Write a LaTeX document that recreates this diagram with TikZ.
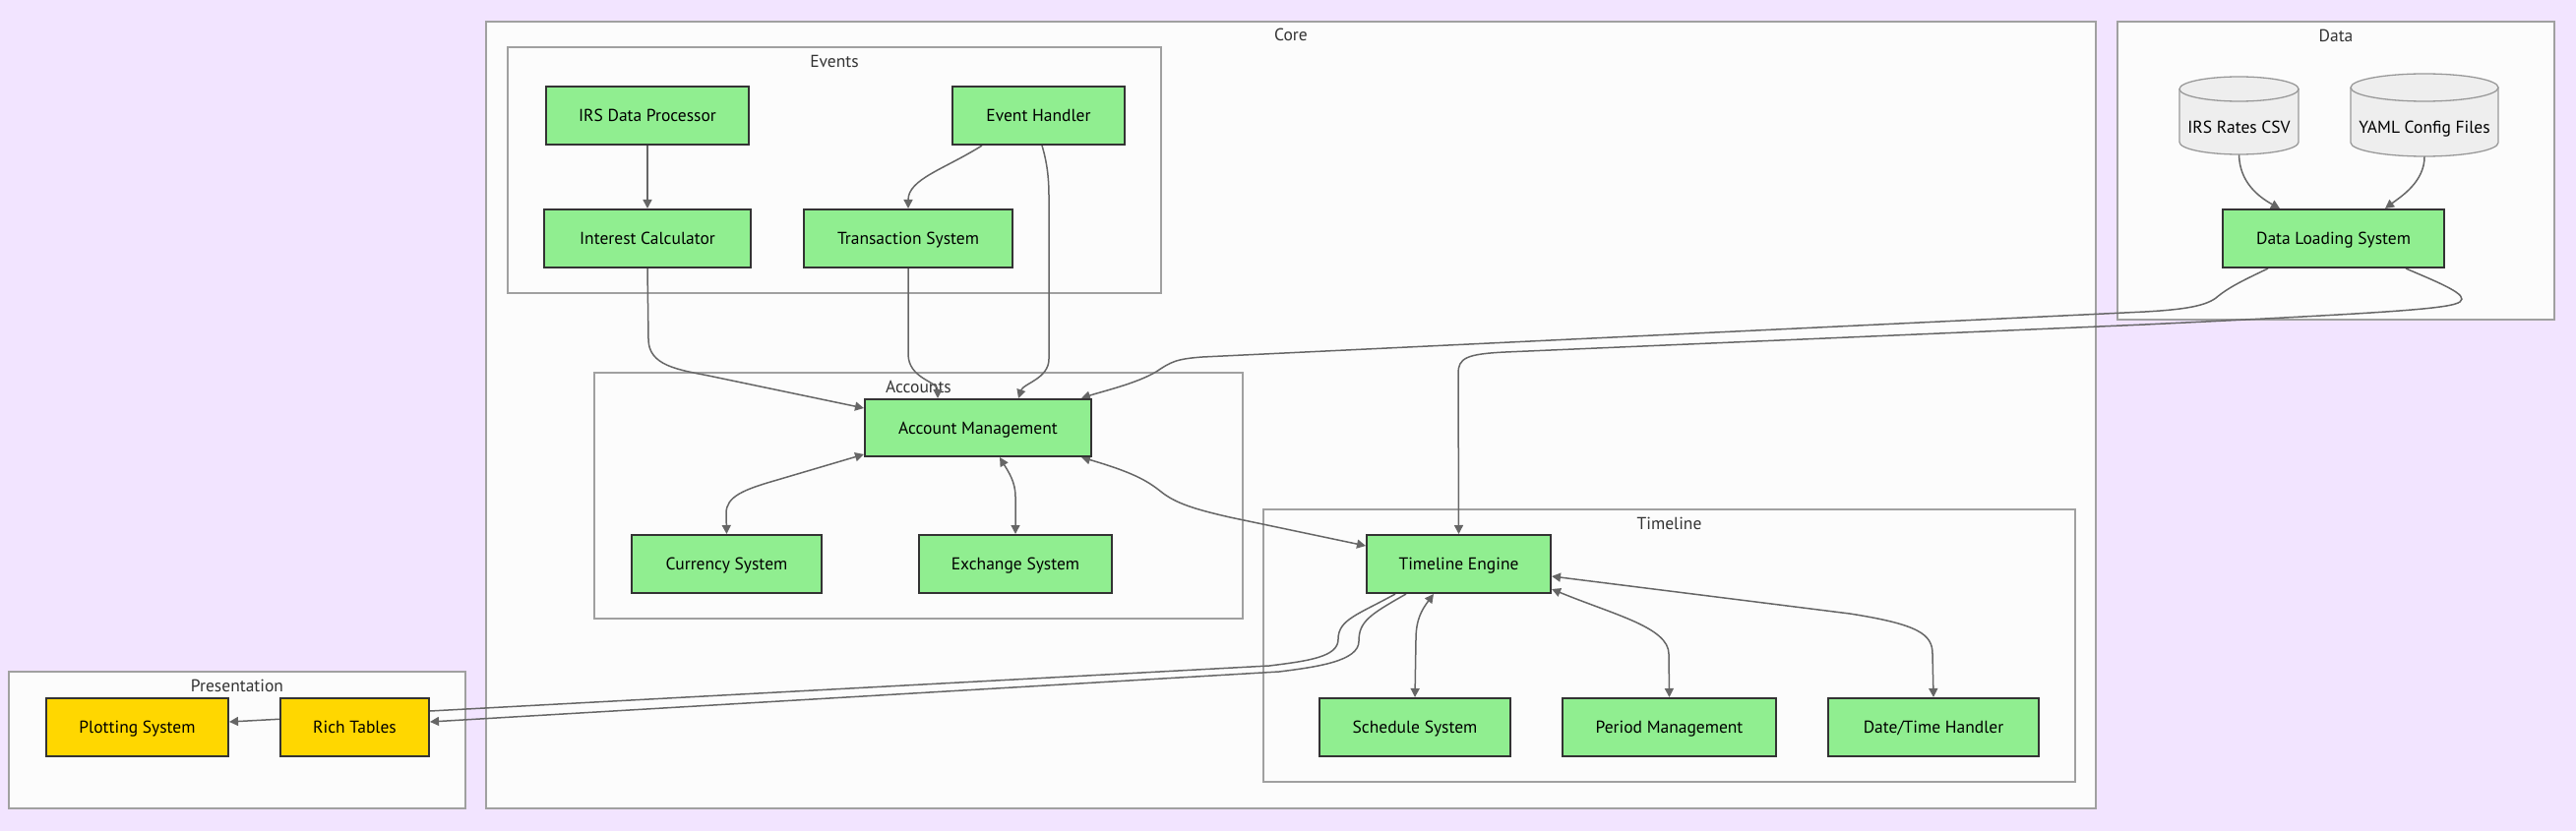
\documentclass[tikz,border=0pt]{standalone}
\usepackage{fontspec}
\setmainfont{PT Sans}
\usetikzlibrary{arrows.meta}
\definecolor{bgc}{RGB}{242,228,255}
\definecolor{clfill}{RGB}{252,252,252}
\definecolor{clborder}{RGB}{160,160,160}
\definecolor{greenfill}{RGB}{144,238,144}
\definecolor{goldfill}{RGB}{255,215,0}
\definecolor{nborder}{RGB}{51,51,51}
\definecolor{edgec}{RGB}{102,102,102}
\definecolor{cylfill}{RGB}{238,238,238}
\definecolor{cylborder}{RGB}{153,153,153}
\definecolor{titlec}{RGB}{51,51,51}
\newcommand\nodefont{\fontsize{17.5}{21}\selectfont}
\pgfdeclarelayer{clusters}
\pgfdeclarelayer{edges}
\pgfsetlayers{clusters,edges,main}
\tikzset{
 box/.style={draw=nborder, line width=2pt, fill=greenfill, minimum height=59pt, inner sep=0pt, font=\nodefont, text height=12.2pt, text depth=0pt},
 goldbox/.style={box, fill=goldfill},
 cluster/.style={draw=clborder, line width=1.3pt, fill=clfill, inner sep=0pt},
 ctitle/.style={text=titlec, font=\nodefont, inner sep=0pt, text height=12.2pt, text depth=0pt},
 cylshape/.style={inner sep=0pt},
 cyllabel/.style={font=\nodefont, inner sep=0pt, text height=12.2pt, text depth=0pt},
 conn/.style={draw=edgec, line width=1.5pt, -{Triangle[length=9pt,width=9pt]}},
 biconn/.style={draw=edgec, line width=1.5pt, {Triangle[length=9pt,width=9pt]}-{Triangle[length=9pt,width=9pt]}},
}
\begin{document}
\begin{tikzpicture}[x=1pt,y=-1pt]
\begin{pgfonlayer}{clusters}
\path[fill=bgc] (0,0) rectangle (2618,845);
\useasboundingbox (0,0) rectangle (2618,845);
% clusters
\node[cluster, minimum width=1636pt, minimum height=800pt] (core) at (1312,422) {};
\node[ctitle] (coret) at (1312,35) {Core};
\node[cluster, minimum width=664pt, minimum height=250pt] (events) at (848,173) {};
\node[ctitle] (eventst) at (848,62) {Events};
\node[cluster, minimum width=659pt, minimum height=250pt] (accounts) at (933.5,504) {};
\node[ctitle] (accountst) at (933.5,393) {Accounts};
\node[cluster, minimum width=825pt, minimum height=277pt] (timeline) at (1696.5,656.5) {};
\node[ctitle] (timelinet) at (1696.5,532) {Timeline};
\node[cluster, minimum width=444pt, minimum height=303pt] (data) at (2374,173.5) {};
\node[ctitle] (datat) at (2374,36) {Data};
\node[cluster, minimum width=464pt, minimum height=139pt] (pres) at (241,752.5) {};
\node[ctitle] (prest) at (241,697) {Presentation};
\end{pgfonlayer}

% nodes
\node[box, minimum width=206pt] (irs) at (658,117.5) {IRS Data Processor};
\node[box, minimum width=175pt] (evh) at (1055.5,117.5) {Event Handler};
\node[box, minimum width=210pt] (ic) at (658,242.5) {Interest Calculator};
\node[box, minimum width=212pt] (ts) at (923,242.5) {Transaction System};
\node[box, minimum width=230pt, minimum height=58pt] (am) at (994,435) {Account Management};
\node[box, minimum width=193pt] (cur) at (738.5,573.5) {Currency System};
\node[box, minimum width=196pt] (exch) at (1032,573.5) {Exchange System};
\node[box, minimum width=187pt] (te) at (1482.5,573.5) {Timeline Engine};
\node[box, minimum width=194pt] (sched) at (1438,739.5) {Schedule System};
\node[box, minimum width=217pt] (period) at (1696.5,739.5) {Period Management};
\node[box, minimum width=214pt] (dt) at (1965,739.5) {Date/Time Handler};
\node[box, minimum width=225pt] (dls) at (2371.5,242.5) {Data Loading System};
\node[goldbox, minimum width=185pt] (plot) at (139.5,739.5) {Plotting System};
\node[goldbox, minimum width=151pt] (rich) at (360.5,739.5) {Rich Tables};

% cylinders
\path[fill=cylfill] (2215,90.5) rectangle (2336,144.5);
\path[fill=cylfill] (2275.5,144.5) ellipse [x radius=60.5, y radius=12.5];
\draw[draw=cylborder, line width=1.3pt, fill=cylfill] (2275.5,90.5) ellipse [x radius=60.5, y radius=12.5];
\draw[draw=cylborder, line width=1.3pt] (2215,90.5) -- (2215,144.5) .. controls (2215,151.4) and (2242.1,157) .. (2275.5,157) .. controls (2308.9,157) and (2336,151.4) .. (2336,144.5) -- (2336,90.5);
\node[cylshape, minimum width=121pt, minimum height=79pt] (csv) at (2275.5,117.5) {};
\node[cyllabel] (csvt) at (2275.5,129) {IRS Rates CSV};

\path[fill=cylfill] (2389,89) rectangle (2539,145);
\path[fill=cylfill] (2464,145) ellipse [x radius=75, y radius=14];
\draw[draw=cylborder, line width=1.3pt, fill=cylfill] (2464,89) ellipse [x radius=75, y radius=14];
\draw[draw=cylborder, line width=1.3pt] (2389,89) -- (2389,145) .. controls (2389,152.7) and (2422.6,159) .. (2464,159) .. controls (2505.4,159) and (2539,152.7) .. (2539,145) -- (2539,89);
\node[cylshape, minimum width=150pt, minimum height=84pt] (yaml) at (2464,117) {};
\node[cyllabel] (yamlt) at (2464,129) {YAML Config Files};

\begin{pgfonlayer}{edges}
\draw[conn] (irs.south) -- (ic.north);
\draw[conn] ([xshift=-57.5pt]evh.south) .. controls (960,172) and (923,182) .. (ts.north);
\draw[conn] ([xshift=3.5pt]evh.south) .. controls (1064,165) and (1066,180) .. (1066,200) -- (1066,365) .. controls (1066,385) and (1040,390) .. ([xshift=41pt]am.north);
\draw[conn] (ic.south) -- (659,345) .. controls (659,372) and (690,376) .. (720,382) -- ([yshift=20pt]am.west);
\draw[conn] (ts.south) -- (923,360) .. controls (923,385) and (953,388) .. ([xshift=-41pt]am.north);
\draw[conn] ([xshift=-66.5pt]dls.south) .. controls (2280,285) and (2265,292) .. (2252,303) .. controls (2240,312) and (2215,315) .. (2180,317) -- (1222,363) .. controls (1195,365) and (1190,368) .. (1175,378) .. controls (1155,390) and (1120,398) .. ([xshift=105pt]am.north);
\draw[conn] ([xshift=73.5pt]dls.south) .. controls (2480,288) and (2510,300) .. (2500,307) .. controls (2490,314) and (2430,318) .. (2180,330) -- (1530,358) .. controls (1490,360) and (1482,364) .. (1482,380) -- (te.north);
\draw[biconn] ([yshift=-27pt]am.west) -- (790,488) .. controls (755,498) and (738,505) .. (738,522) -- (cur.north);
\draw[biconn] ([xshift=22pt]am.south) .. controls (1025,480) and (1032,490) .. (1032,505) -- (exch.north);
\draw[biconn] ([xshift=105pt]am.south) .. controls (1150,480) and (1165,488) .. (1180,500) .. controls (1195,512) and (1215,518) .. (1250,526) -- ([yshift=18.5pt]te.west);
\draw[biconn] ([xshift=-25.5pt]te.south) .. controls (1445,620) and (1439,630) .. (1439,650) -- (sched.north);
\draw[biconn] ([yshift=-25.5pt]te.east) .. controls (1640,625) and (1696,638) .. (1696,665) -- (period.north);
\draw[biconn] ([yshift=-12.5pt]te.east) -- (1880,624) .. controls (1950,635) and (1964,645) .. (1964,665) -- (dt.north);
\draw[conn] ([xshift=-64.5pt]te.south) .. controls (1380,625) and (1360,630) .. (1360,650) .. controls (1360,668) and (1330,672) .. (1290,677) -- ([yshift=5.5pt]plot.east);
\draw[conn] ([xshift=-53.5pt]te.south) .. controls (1392,625) and (1381,632) .. (1381,652) .. controls (1381,672) and (1340,678) .. (1300,683) -- ([yshift=5.5pt]rich.east);
\draw[conn] (csv.south) .. controls (2276,185) and (2295,200) .. ([xshift=-54.5pt]dls.north);
\draw[conn] (yaml.south) .. controls (2464,185) and (2440,200) .. ([xshift=52.5pt]dls.north);
\end{pgfonlayer}
\end{tikzpicture}
\end{document}
